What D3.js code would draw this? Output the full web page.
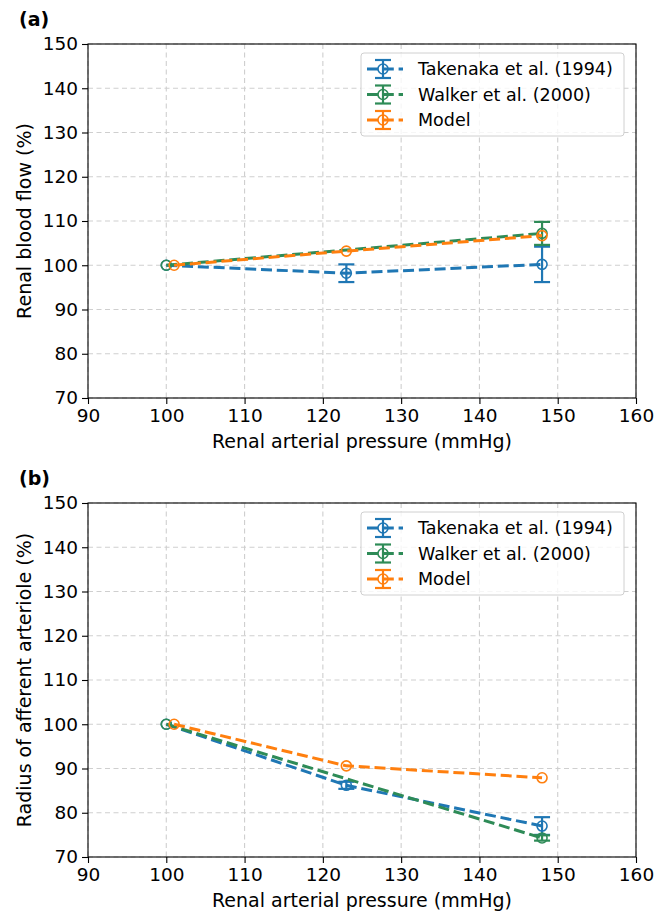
<!DOCTYPE html>
<html><head><meta charset="utf-8">
<script src="https://cdn.jsdelivr.net/npm/d3@7"></script>
<style>body{margin:0;background:#fff}svg{display:block;font-family:"DejaVu Sans",sans-serif}</style>
</head><body><svg id="c" width="654" height="913"></svg>
<script>
// ---- data ----
const xTicks = [90,100,110,120,130,140,150,160];
const yTicks = [70,80,90,100,110,120,130,140,150];
const seriesNames = ["Takenaka et al. (1994)","Walker et al. (2000)","Model"];
const seriesColors = ["#1f77b4","#2e8b57","#ff7f0e"];

// panel (a): renal blood flow
const takenakaFlowX = [100,123,148];
const takenakaFlowY = [100,98.2,100.2];
const takenakaFlowErr = [0,2,4];
const walkerFlowX = [100,148];
const walkerFlowY = [100,107.2];
const walkerFlowErr = [0,2.6];
const modelFlowX = [101,123,148];
const modelFlowY = [100,103.2,106.7];

// panel (b): afferent arteriole radius
const takenakaRadX = [100,123,148];
const takenakaRadY = [100,86.2,77];
const takenakaRadErr = [0,0.8,2];
const walkerRadX = [100,148];
const walkerRadY = [100,74.3];
const walkerRadErr = [0,0.6];
const modelRadX = [101,123,148];
const modelRadY = [100,90.6,87.9];

const panels = [
  {tag:"(a)", top:44, ylabel:"Renal blood flow (%)",
   series:[[takenakaFlowX,takenakaFlowY,takenakaFlowErr],[walkerFlowX,walkerFlowY,walkerFlowErr],[modelFlowX,modelFlowY,null]]},
  {tag:"(b)", top:503, ylabel:"Radius of afferent arteriole (%)",
   series:[[takenakaRadX,takenakaRadY,takenakaRadErr],[walkerRadX,walkerRadY,walkerRadErr],[modelRadX,modelRadY,null]]}
];

const svg = d3.select("#c");
const left = 88, right = 636, ph = 354;

panels.forEach(p => {
  const g = svg.append("g");
  const x = d3.scaleLinear().domain([90,160]).range([left,right]);
  const y = d3.scaleLinear().domain([70,150]).range([p.top+ph,p.top]);

  // grid
  g.selectAll(".gx").data(xTicks).join("line")
    .attr("x1",d=>x(d)).attr("x2",d=>x(d)).attr("y1",p.top).attr("y2",p.top+ph)
    .attr("stroke","#cfcfcf").attr("stroke-width",1.1).attr("stroke-dasharray","5,3.5");
  g.selectAll(".gy").data(yTicks).join("line")
    .attr("y1",d=>y(d)).attr("y2",d=>y(d)).attr("x1",left).attr("x2",right)
    .attr("stroke","#cfcfcf").attr("stroke-width",1.1).attr("stroke-dasharray","5,3.5");

  // series
  p.series.forEach((s,i) => {
    const [xs,ys,es] = s;
    const col = seriesColors[i];
    const pts = xs.map((v,k)=>({x:v,y:ys[k],e:es?es[k]:0}));
    g.append("path").datum(pts)
      .attr("d",d3.line().x(d=>x(d.x)).y(d=>y(d.y)))
      .attr("fill","none").attr("stroke",col).attr("stroke-width",3)
      .attr("stroke-dasharray","11,4.8");
    pts.filter(d=>d.e>0).forEach(d=>{
      g.append("line").attr("x1",x(d.x)).attr("x2",x(d.x)).attr("y1",y(d.y-d.e)).attr("y2",y(d.y+d.e))
        .attr("stroke",col).attr("stroke-width",2.2);
      [d.y-d.e,d.y+d.e].forEach(v=>{
        g.append("line").attr("x1",x(d.x)-8).attr("x2",x(d.x)+8).attr("y1",y(v)).attr("y2",y(v))
          .attr("stroke",col).attr("stroke-width",2.2);
      });
    });
    g.selectAll(null).data(pts).join("circle")
      .attr("cx",d=>x(d.x)).attr("cy",d=>y(d.y)).attr("r",5)
      .attr("fill","none").attr("stroke",col).attr("stroke-width",1.6);
  });

  // frame
  g.append("rect").attr("x",left).attr("y",p.top).attr("width",right-left).attr("height",ph)
    .attr("fill","none").attr("stroke","#000").attr("stroke-width",1.1);

  // axes
  const xa = g.append("g").attr("transform",`translate(0,${p.top+ph})`)
    .call(d3.axisBottom(x).tickValues(xTicks).tickSize(6).tickPadding(5).tickFormat(d3.format("d")));
  const ya = g.append("g").attr("transform",`translate(${left},0)`)
    .call(d3.axisLeft(y).tickValues(yTicks).tickSize(6).tickPadding(4).tickFormat(d3.format("d")));
  [xa,ya].forEach(a=>{
    a.select(".domain").remove();
    a.selectAll("line").attr("stroke","#000").attr("stroke-width",1.1);
    a.selectAll("text").attr("font-size",18.5).attr("fill","#000").attr("font-family","DejaVu Sans");
  });

  g.append("text").attr("x",(left+right)/2).attr("y",p.top+ph+50).attr("text-anchor","middle")
    .attr("font-size",19).text("Renal arterial pressure (mmHg)");
  g.append("text").attr("transform",`translate(31,${p.top+ph/2}) rotate(-90)`).attr("text-anchor","middle")
    .attr("font-size",19).text(p.ylabel);
  g.append("text").attr("x",19).attr("y",p.top-18).attr("font-size",19).attr("font-weight","bold").text(p.tag);

  // legend
  const lx = 361, ly = p.top+9;
  g.append("rect").attr("x",lx).attr("y",ly).attr("width",263).attr("height",83).attr("rx",3)
    .attr("fill","rgba(255,255,255,0.8)").attr("stroke","#d0d0d0").attr("stroke-width",1);
  seriesNames.forEach((n,i)=>{
    const cy = ly+16+i*25.5, col = seriesColors[i];
    g.append("line").attr("x1",lx+6).attr("x2",lx+42).attr("y1",cy).attr("y2",cy)
      .attr("stroke",col).attr("stroke-width",3).attr("stroke-dasharray","11,4.8");
    g.append("line").attr("x1",lx+22).attr("x2",lx+22).attr("y1",cy-9).attr("y2",cy+9).attr("stroke",col).attr("stroke-width",2.2);
    [cy-9,cy+9].forEach(v=>g.append("line").attr("x1",lx+14).attr("x2",lx+30).attr("y1",v).attr("y2",v).attr("stroke",col).attr("stroke-width",2.2));
    g.append("circle").attr("cx",lx+22).attr("cy",cy).attr("r",5).attr("fill","none").attr("stroke",col).attr("stroke-width",1.6);
    g.append("text").attr("x",lx+57).attr("y",cy+6).attr("font-size",17.5).text(n);
  });
});
</script></body></html>
